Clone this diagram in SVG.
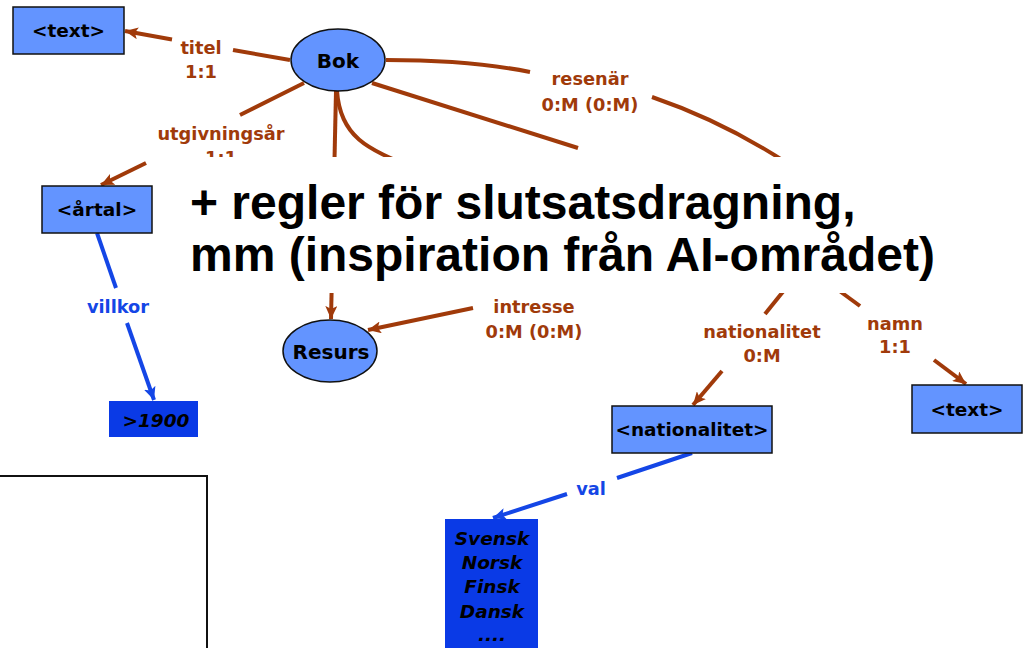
<svg xmlns="http://www.w3.org/2000/svg" width="1029" height="648" viewBox="0 0 1029 648">
<style>
.node{fill:#6394FF;stroke:#111;stroke-width:1.5}
.dark{fill:#0A3AE6;stroke:none}
.nt{font-family:"DejaVu Sans",Verdana,sans-serif;font-weight:bold;font-size:18.5px;fill:#000;text-anchor:middle}
.ntb{font-family:"DejaVu Sans",Verdana,sans-serif;font-weight:bold;font-size:20px;fill:#000;text-anchor:middle}
.it{font-family:"DejaVu Sans",Verdana,sans-serif;font-weight:bold;font-style:italic;font-size:18.5px;fill:#000;text-anchor:middle}
.br{fill:none;stroke:#A03A0A;stroke-width:4}
.bl{fill:none;stroke:#1446E6;stroke-width:4}
.lb{font-family:"DejaVu Sans",Verdana,sans-serif;font-weight:bold;font-size:17.8px;fill:#A03A0A;text-anchor:middle}
.lbb{font-family:"DejaVu Sans",Verdana,sans-serif;font-weight:bold;font-size:17.8px;fill:#1446E6;text-anchor:middle}
.title{font-family:"Liberation Sans",Arial,sans-serif;font-weight:bold;font-size:48px;fill:#000}
</style>
<defs>
<marker id="ab" markerUnits="userSpaceOnUse" markerWidth="14" markerHeight="12" refX="13" refY="6" orient="auto"><path d="M0,0 L13,6 L0,12 L3,6 z" fill="#A03A0A"/></marker>
<marker id="abl" markerUnits="userSpaceOnUse" markerWidth="14" markerHeight="12" refX="13" refY="6" orient="auto"><path d="M0,0 L13,6 L0,12 L3,6 z" fill="#1446E6"/></marker>
</defs>
<rect width="1029" height="648" fill="#fff"/>
<g id="connectors">
<path class="br" d="M290,60 L233,50"/>
<path class="br" d="M172,39.5 L125,31" marker-end="url(#ab)"/>
<path class="br" d="M304,83 L240,115"/>
<path class="br" d="M146,163 L101,185" marker-end="url(#ab)"/>
<path class="br" d="M336,91 L331,319" marker-end="url(#ab)"/>
<path class="br" d="M337,91 C340,135 365,150 420,170"/>
<path class="br" d="M372,83 L578,148"/>
<path class="br" d="M386,60 Q470,60 530,72"/>
<path class="br" d="M652,97 Q725,122 790,165"/>
<path class="br" d="M473,308 L368,330" marker-end="url(#ab)"/>
<path class="br" d="M790,283 L765,314"/>
<path class="br" d="M722,371 L693,405" marker-end="url(#ab)"/>
<path class="br" d="M830,284 L860,306"/>
<path class="br" d="M934,360 L966,384" marker-end="url(#ab)"/>
<path class="bl" d="M97,233 L116,288"/>
<path class="bl" d="M127,323 L154,400" marker-end="url(#abl)"/>
<path class="bl" d="M692,453 L617,478"/>
<path class="bl" d="M567,494 L493,518" marker-end="url(#abl)"/>
</g>
<g id="labels">
<text class="lb" x="201" y="54">titel</text>
<text class="lb" x="201" y="78">1:1</text>
<text class="lb" x="221" y="140">utgivningsår</text>
<text class="lb" x="221" y="164">1:1</text>
<text class="lb" x="590" y="85">resenär</text>
<text class="lb" x="590" y="111">0:M (0:M)</text>
<text class="lb" x="534" y="313">intresse</text>
<text class="lb" x="534" y="338">0:M (0:M)</text>
<text class="lb" x="762" y="338">nationalitet</text>
<text class="lb" x="762" y="362">0:M</text>
<text class="lb" x="895" y="330">namn</text>
<text class="lb" x="895" y="353">1:1</text>
<text class="lbb" x="118" y="313">villkor</text>
<text class="lbb" x="591" y="495">val</text>
</g>
<rect id="overlay" x="148" y="157" width="760" height="136" fill="#fff"/>
<g id="title">
<text class="title" x="190" y="219">+ regler för slutsatsdragning,</text>
<text class="title" x="190" y="271">mm (inspiration från AI-området)</text>
</g>
<g id="text1"><rect class="node" x="13" y="7" width="111" height="47"/><text class="nt" x="68.5" y="37">&lt;text&gt;</text></g>
<g id="bok"><ellipse class="node" cx="338" cy="60" rx="47" ry="31"/><text class="ntb" x="338" y="68">Bok</text></g>
<g id="artal"><rect class="node" x="42" y="186" width="110" height="47"/><text class="nt" x="97" y="216">&lt;årtal&gt;</text></g>
<g id="y1900"><rect class="dark" x="109" y="401" width="89" height="36"/><text class="it" x="156" y="427">&gt;1900</text></g>
<g id="resurs"><ellipse class="node" cx="330" cy="351" rx="47" ry="31"/><text class="ntb" x="331" y="359">Resurs</text></g>
<g id="nat"><rect class="node" x="612" y="406" width="160" height="47"/><text class="nt" x="692" y="436">&lt;nationalitet&gt;</text></g>
<g id="text2"><rect class="node" x="912" y="385" width="110" height="48"/><text class="nt" x="967" y="416">&lt;text&gt;</text></g>
<g id="val"><rect class="dark" x="445" y="519" width="93" height="140"/>
<text class="it" x="492" y="545">Svensk</text>
<text class="it" x="492" y="569">Norsk</text>
<text class="it" x="492" y="593">Finsk</text>
<text class="it" x="492" y="618">Dansk</text>
<text class="it" x="492" y="641">....</text></g>
<rect id="frame" x="-2" y="476" width="209" height="190" fill="#fff" stroke="#111" stroke-width="2"/>
</svg>
